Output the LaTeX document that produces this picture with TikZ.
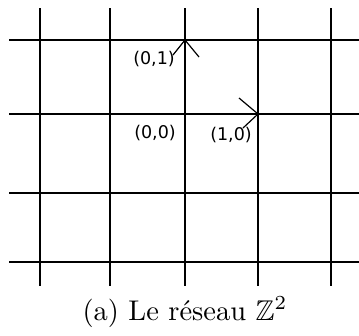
\documentclass[tikz,border=0pt]{standalone}
\usepackage{amssymb}
\usepackage{fontspec}
\newfontfamily\labelfont{DejaVu Sans}
\begin{document}
\begin{tikzpicture}[x=1pt,y=-1pt,
  gridline/.style={line width=1.2pt, line cap=butt},
  lbl/.style={font=\labelfont, scale=1.75, inner sep=0pt},
  captionlbl/.style={scale=2.85, inner sep=0pt}]
\useasboundingbox (0,0) rectangle (359,335);
\foreach \x in {40,110,185,258,331} \draw[gridline] (\x,8) -- (\x,286);
\foreach \y in {40,114,193,262} \draw[gridline] (9,\y) -- (359,\y);
\coordinate (o) at (185,114);
\coordinate (e2) at (185,40);
\coordinate (e1) at (258,114);
\coordinate (a2l) at (173,55);
\coordinate (a2r) at (199,57);
\coordinate (a1u) at (239,98);
\coordinate (a1d) at (243,128);
\draw[gridline] (a2l) -- (e2) -- (a2r);
\draw[gridline] (a1u) -- (e1) -- (a1d);
\node[lbl] (l01) at (154,59) {(0,1)};
\node[lbl] (l00) at (155,133) {(0,0)};
\node[lbl] (l10) at (231,135) {(1,0)};
\node[captionlbl, anchor=base] (cap) at (185,320) {(a) Le réseau $\mathbb{Z}^2$};
\end{tikzpicture}
\end{document}
